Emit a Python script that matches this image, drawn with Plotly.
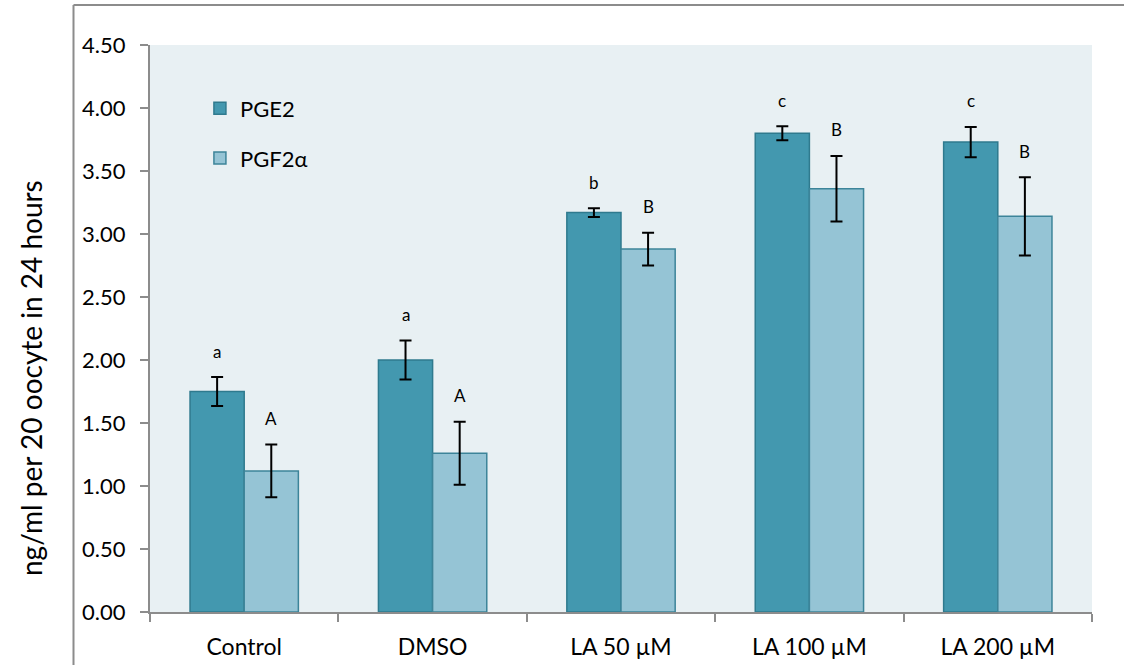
import plotly.graph_objects as go

categories = ["Control", "DMSO", "LA 50 µM", "LA 100 µM", "LA 200 µM"]
pge2 = [1.75, 2.00, 3.17, 3.80, 3.73]
pge2_err = [0.115, 0.155, 0.035, 0.055, 0.12]
pgf2a = [1.12, 1.26, 2.88, 3.36, 3.14]
pgf2a_err = [0.21, 0.25, 0.13, 0.26, 0.31]
pge2_letters = ["a", "a", "b", "c", "c"]
pgf2a_letters = ["A", "A", "B", "B", "B"]
yticks = [0, 0.5, 1.0, 1.5, 2.0, 2.5, 3.0, 3.5, 4.0, 4.5]

FONT = "Lato, 'Open Sans', sans-serif"
W, H = 1124, 665
L, R, T, B = 150, 32, 45, 53

fig = go.Figure()
fig.add_trace(go.Bar(
    name="PGE2", x=categories, y=pge2,
    marker=dict(color="#4398AF", line=dict(color="#2F7A8E", width=1.5)),
    error_y=dict(type="data", array=pge2_err, color="black", thickness=2, width=6),
    legendgroup="g1",
))
fig.add_trace(go.Bar(
    name="PGF2α", x=categories, y=pgf2a,
    marker=dict(color="#95C4D5", line=dict(color="#3C8499", width=1.5)),
    error_y=dict(type="data", array=pgf2a_err, color="black", thickness=2, width=6),
    legendgroup="g2",
))

for i, c in enumerate(categories):
    fig.add_annotation(x=c, y=pge2[i] + pge2_err[i], text=pge2_letters[i], showarrow=False,
                       xshift=-27, yshift=26, font=dict(family=FONT, size=17, color="black"))
    fig.add_annotation(x=c, y=pgf2a[i] + pgf2a_err[i], text=pgf2a_letters[i], showarrow=False,
                       xshift=27, yshift=26, font=dict(family=FONT, size=17, color="black"))

pw = W - L - R
ph = H - T - B
fx = lambda px: (px - L) / pw
fy = lambda py: (H - B - py) / ph

# outer frame (left and top edges visible)
fig.add_shape(type="line", xref="paper", yref="paper", x0=fx(73.5), x1=fx(1130), y0=fy(5), y1=fy(5),
              line=dict(color="#8C8C8C", width=2), layer="above")
fig.add_shape(type="line", xref="paper", yref="paper", x0=fx(73.5), x1=fx(73.5), y0=fy(5), y1=fy(670),
              line=dict(color="#8C8C8C", width=2), layer="above")

fig.add_annotation(xref="paper", yref="paper", x=fx(31), y=fy(378), xanchor="center", yanchor="middle",
                   text="ng/ml per 20 oocyte in 24 hours",
                   textangle=-90, showarrow=False, font=dict(family=FONT, size=28, color="black"))

fig.update_layout(
    width=W, height=H,
    margin=dict(l=L, r=R, t=T, b=B, pad=0, autoexpand=False),
    paper_bgcolor="white",
    plot_bgcolor="#E8F0F3",
    barmode="group",
    bargap=0.425,
    bargroupgap=0,
    font=dict(family=FONT, size=22, color="black"),
    legend=dict(x=0.053, y=0.925, xanchor="left", yanchor="top", bgcolor="rgba(0,0,0,0)",
                font=dict(family=FONT, size=22), tracegroupgap=18, traceorder="grouped"),
    showlegend=True,
)
fig.update_xaxes(showline=True, linecolor="#8C8C8C", linewidth=2, ticks="outside", ticklen=8,
                 tickcolor="#8C8C8C", tickwidth=2, tickson="boundaries", showgrid=False, automargin=False,
                 tickfont=dict(family=FONT, size=23), ticklabelstandoff=13)
fig.update_yaxes(range=[0, 4.5], tickvals=yticks, ticktext=[f"{v:.2f}" for v in yticks],
                 showline=True, linecolor="#8C8C8C", linewidth=2, ticks="outside", ticklen=8,
                 tickcolor="#8C8C8C", tickwidth=2, showgrid=False, zeroline=False, automargin=False,
                 tickfont=dict(family=FONT, size=22), ticklabelstandoff=10)

fig.write_html("out.html")
